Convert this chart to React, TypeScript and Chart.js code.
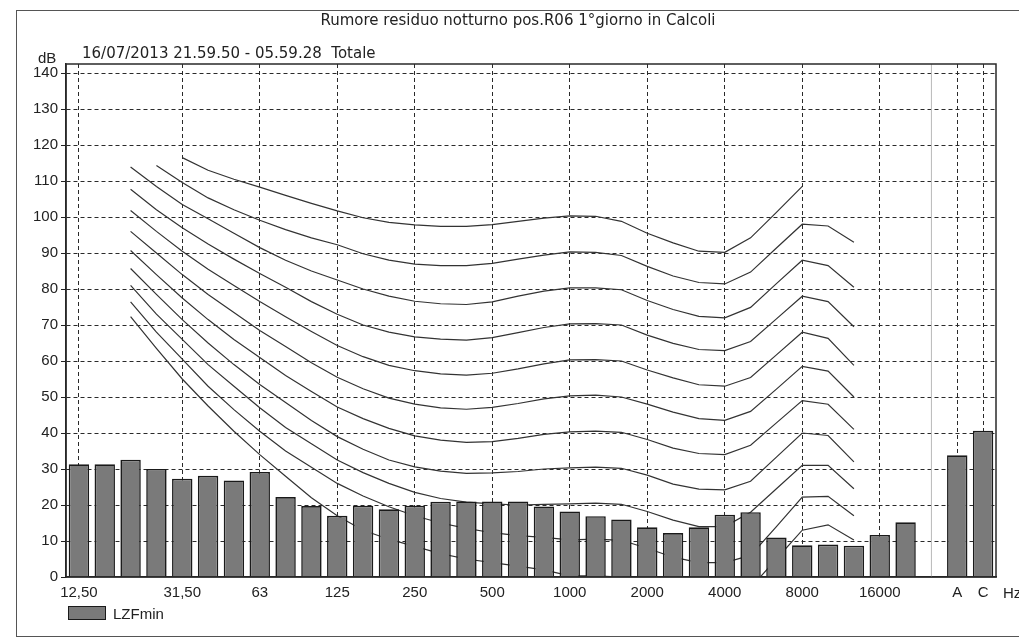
import React, { useEffect, useRef } from 'react';
import { Chart, registerables } from 'chart.js';

Chart.register(...registerables);

// 1/3-octave bands, an empty slot, then the A and C weighted totals
const categories = ['12,50', '16', '20', '25', '31,50', '40', '50', '63', '80', '100', '125', '160', '200', '250', '315', '400', '500', '630', '800', '1000', '1250', '1600', '2000', '2500', '3150', '4000', '5000', '6300', '8000', '10000', '12500', '16000', '20000', '', 'A', 'C'];
const tickLabels = ['12,50', '31,50', '63', '125', '250', '500', '1000', '2000', '4000', '8000', '16000', 'A', 'C'];
const gapSlot = '';

// LZFmin levels (dB)
const lzfMin = [31.3, 31.3, 32.6, 30.0, 27.3, 28.1, 26.8, 29.2, 22.2, 19.7, 17.0, 19.8, 18.8, 19.8, 20.9, 21.0, 21.0, 21.0, 19.6, 18.2, 16.9, 16.0, 13.8, 12.2, 13.8, 17.3, 18.0, 11.0, 8.8, 9.0, 8.7, 11.7, 15.2, null, 33.8, 40.6];

// equal-loudness contours (dB), one per band slot, null where not drawn
const N = null;
const curve0 = [N, N, 72.3, 63.5, 55, 47.5, 40.5, 34, 28, 22, 17, 13, 10.5, 8.5, 6.5, 5, 4, 3, 2, 0.3, 0.3, 0, -2, -4, -5, -5, -3, 5, 13, 14.5, 10.3, N, N, N, N, N];
const curve10 = [N, N, 76.4, 68, 60.5, 53, 46.5, 40.5, 35, 30.5, 26, 22.5, 19.5, 17, 15, 13.5, 12.3, 11.5, 11, 10.3, 10.5, 10.2, 8, 5.5, 4, 4, 6, 14, 22.2, 22.4, 17, N, N, N, N, N];
const curve20 = [N, N, 81, 73, 66, 59, 53, 47, 41.5, 37, 32.5, 29, 26, 23.5, 21.8, 20.8, 20.3, 20, 20.2, 20.3, 20.5, 20.2, 18.2, 15.8, 14, 14, 18, 24.5, 31, 31, 24.5, N, N, N, N, N];
const curve30 = [N, N, 85.7, 78.5, 71.5, 65, 59, 53.5, 48.5, 43.5, 39, 35.5, 32.5, 30.6, 29.4, 28.8, 28.9, 29.3, 30, 30.3, 30.5, 30.2, 28.3, 25.8, 24.4, 24.2, 26.6, 33.3, 40, 39.3, 32, N, N, N, N, N];
const curve40 = [N, N, 90.7, 84, 77.5, 71.5, 66, 61, 56, 51.5, 47.2, 44, 41.3, 39.2, 38, 37.4, 37.6, 38.5, 39.6, 40.3, 40.5, 40.2, 38.2, 35.8, 34.3, 34, 36.6, 42.8, 49, 48, 41, N, N, N, N, N];
const curve50 = [N, N, 96, 90, 84, 78.5, 73.5, 68.5, 64, 59.5, 55.5, 52.3, 49.7, 48, 47, 46.6, 47.1, 48.2, 49.5, 50.3, 50.5, 50, 48, 45.8, 44, 43.5, 46, 52.2, 58.5, 57.2, 50, N, N, N, N, N];
const curve60 = [N, N, 101.8, 96, 90.5, 85.5, 81, 76.5, 72.3, 68.2, 64.3, 61.2, 58.8, 57.3, 56.4, 56.1, 56.6, 57.8, 59.2, 60.3, 60.4, 60, 57.5, 55.3, 53.4, 53, 55.4, 61.7, 68, 66.3, 58.8, N, N, N, N, N];
const curve70 = [N, N, 107.7, 102, 97, 92.5, 88.3, 84.3, 80.5, 76.5, 73, 70, 68, 66.7, 66.1, 65.8, 66.5, 67.9, 69.3, 70.3, 70.4, 70, 67.2, 64.9, 63.2, 62.9, 65.4, 71.7, 78, 76.5, 69.5, N, N, N, N, N];
const curve80 = [N, N, 113.9, 108.5, 103.5, 99.5, 95.5, 91.5, 88, 85, 82.5, 80, 78, 76.6, 75.9, 75.7, 76.4, 78, 79.4, 80.3, 80.3, 79.8, 76.8, 74.3, 72.4, 72, 74.9, 81.5, 88, 86.5, 80.5, N, N, N, N, N];
const curve90 = [N, N, N, 114.3, 109.6, 105.3, 102, 99.1, 96.5, 94.2, 92.3, 89.8, 88, 86.9, 86.5, 86.5, 87.1, 88.3, 89.4, 90.3, 90.2, 89.3, 86.3, 83.6, 81.8, 81.4, 84.7, 91.4, 98, 97.5, 93, N, N, N, N, N];
const curve100 = [N, N, N, N, 116.5, 113, 110.5, 108.3, 106, 103.8, 101.7, 99.8, 98.5, 97.8, 97.4, 97.4, 97.9, 98.8, 99.7, 100.3, 100.2, 98.8, 95.5, 92.8, 90.5, 90.2, 94.2, 101.3, 108.5, N, N, N, N, N, N, N];

const curves = [curve0, curve10, curve20, curve30, curve40, curve50, curve60, curve70, curve80, curve90, curve100];

const FONT = "'Liberation Sans', Arial, sans-serif";
const HEAD_FONT = "'DejaVu Sans', 'Liberation Sans', sans-serif";
const INK = '#222';

const framePlugin = {
  id: 'frameAndGap',
  beforeDatasetsDraw(chart: any) {
    const { ctx, chartArea: a, scales } = chart;
    const gx = scales.x.getPixelForValue(categories.indexOf(gapSlot));
    ctx.save();
    ctx.strokeStyle = '#b8b8b8';
    ctx.lineWidth = 1;
    ctx.beginPath();
    ctx.moveTo(gx, a.top);
    ctx.lineTo(gx, a.bottom);
    ctx.stroke();
    ctx.restore();
  },
  afterDraw(chart: any) {
    const { ctx, chartArea: a } = chart;
    ctx.save();
    ctx.strokeStyle = '#2a2a2a';
    ctx.lineWidth = 1.5;
    ctx.strokeRect(a.left, a.top, a.right - a.left, a.bottom - a.top);
    ctx.restore();
  },
};

export default function App() {
  const ref = useRef<HTMLCanvasElement>(null);

  useEffect(() => {
    if (!ref.current) return;
    const shown = new Set(tickLabels);
    const lineSets = curves.map((data, i) => ({
      type: 'line' as const,
      label: 'curve' + i,
      data,
      borderColor: '#333',
      borderWidth: 1.2,
      pointRadius: 0,
      tension: 0,
      fill: false,
      spanGaps: false,
      order: 1,
    }));
    const chart = new Chart(ref.current, {
      type: 'bar',
      data: {
        labels: categories,
        datasets: [
          {
            type: 'bar',
            label: 'LZFmin',
            data: lzfMin,
            backgroundColor: '#7a7a7a',
            borderColor: '#1a1a1a',
            borderWidth: 1.6,
            barPercentage: 0.79,
            categoryPercentage: 1,
            order: 0,
          } as any,
          ...lineSets,
        ],
      },
      options: {
        responsive: false,
        animation: false,
        layout: { padding: { left: 14, right: 23, top: 64, bottom: 34 } },
        plugins: {
          legend: { display: false },
          title: { display: false },
          tooltip: { enabled: false },
        },
        scales: {
          x: {
            offset: true,
            grid: {
              offset: false,
              drawTicks: false,
              lineWidth: 1,
              color: (c: any) => (shown.has(categories[c.index]) ? '#2a2a2a' : 'rgba(0,0,0,0)'),
            },
            border: { display: true, color: INK, width: 1.5, dash: [4, 3] },
            ticks: {
              autoSkip: false,
              maxRotation: 0,
              minRotation: 0,
              padding: 7,
              color: INK,
              font: { family: FONT, size: 15 },
              callback: (_v: any, i: number) => (shown.has(categories[i]) ? categories[i] : ''),
            },
            afterFit: (s: any) => {
              s.height = 30;
            },
          },
          y: {
            min: 0,
            max: 142.5,
            ticks: {
              stepSize: 10,
              includeBounds: false,
              padding: 3,
              color: INK,
              font: { family: FONT, size: 15 },
            },
            grid: {
              color: (c: any) => (c.tick && c.tick.value === 0 ? 'rgba(0,0,0,0)' : '#2a2a2a'),
              tickColor: INK,
              tickLength: 5,
              tickBorderDash: [],
              lineWidth: 1,
            },
            border: { display: true, color: INK, width: 1.5, dash: [4, 3] },
            afterFit: (s: any) => {
              s.width = 52;
            },
          },
        },
      } as any,
      plugins: [framePlugin],
    });
    return () => chart.destroy();
  }, []);

  const text: React.CSSProperties = { position: 'absolute', fontFamily: FONT, color: INK, whiteSpace: 'pre', lineHeight: '16px' };

  return (
    <div style={{ position: 'fixed', left: 0, top: 0, width: 1019, height: 641, overflow: 'hidden', background: '#fff' }}>
      <div style={{ position: 'absolute', left: 16, top: 10, width: 1100, height: 625, borderLeft: '1px solid #555', borderTop: '1px solid #555', borderBottom: '1px solid #555' }} />
      <canvas ref={ref} width={1019} height={641} style={{ position: 'absolute', left: 0, top: 0, width: 1019, height: 641 }} />
      <div style={{ ...text, fontFamily: HEAD_FONT, left: 218, top: 12, width: 600, textAlign: 'center', fontSize: 15 }}>Rumore residuo notturno pos.R06 1°giorno in Calcoli</div>
      <div style={{ ...text, fontFamily: HEAD_FONT, left: 82, top: 45, fontSize: 15 }}>16/07/2013 21.59.50 - 05.59.28  Totale</div>
      <div style={{ ...text, left: 38, top: 50, fontSize: 15 }}>dB</div>
      <div style={{ ...text, left: 1003, top: 585, fontSize: 15 }}>Hz</div>
      <div style={{ position: 'absolute', left: 68, top: 606, width: 36, height: 12, background: '#7a7a7a', border: '1.5px solid #1a1a1a' }} />
      <div style={{ ...text, left: 113, top: 606, fontSize: 15 }}>LZFmin</div>
    </div>
  );
}
